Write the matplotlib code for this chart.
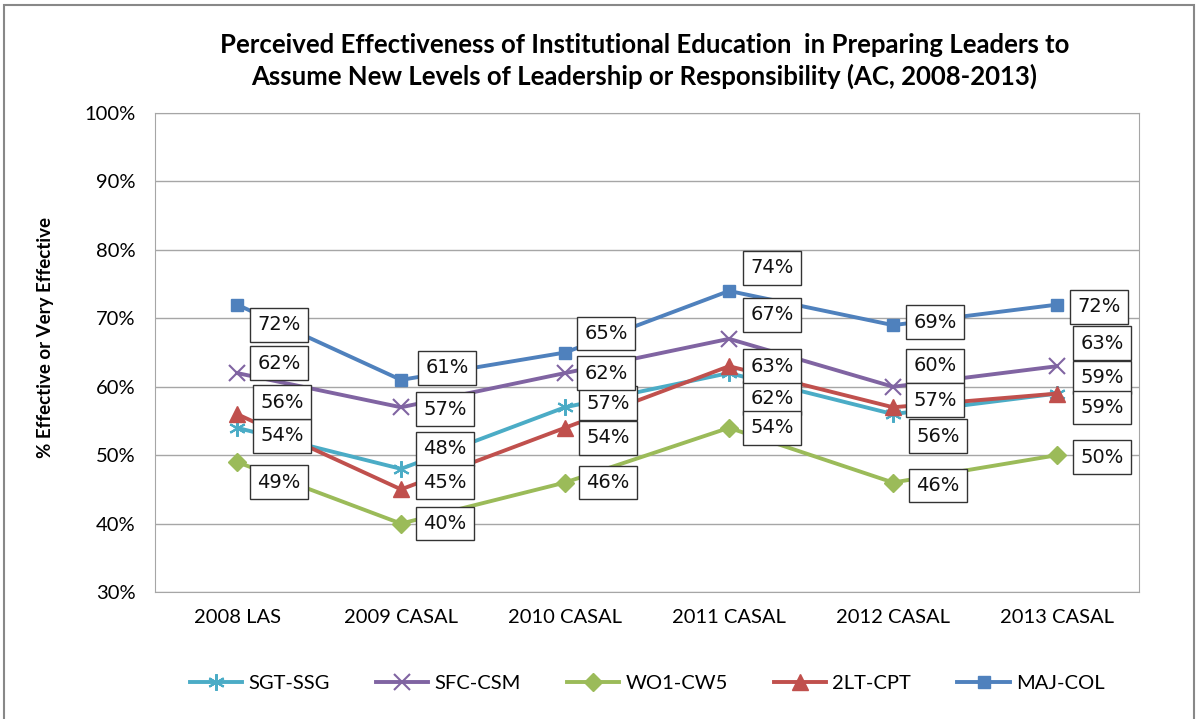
import numpy as np
import matplotlib.pyplot as plt
from matplotlib.patches import Rectangle
from matplotlib.ticker import PercentFormatter

# данные
categories = ['2008 LAS', '2009 CASAL', '2010 CASAL', '2011 CASAL', '2012 CASAL', '2013 CASAL']
series_names = ['SGT-SSG', 'SFC-CSM', 'WO1-CW5', '2LT-CPT', 'MAJ-COL']
sgt_ssg = [54, 48, 57, 62, 56, 59]
sfc_csm = [62, 57, 62, 67, 60, 63]
wo1_cw5 = [49, 40, 46, 54, 46, 50]
lt_cpt = [56, 45, 54, 63, 57, 59]
maj_col = [72, 61, 65, 74, 69, 72]

colors = ['#4BACC6', '#8064A2', '#9BBB59', '#C0504D', '#4F81BD']
markers = [(6, 2, 0), 'x', 'D', '^', 's']
msizes = [12, 12, 9, 12, 9]
mews = [1.5, 1.5, 1, 1, 1]

# смещения подписей (пиксели: вправо, вниз)
offsets = [
    [(45, 8), (44, -20), (43, -4), (43, 25), (45, 22), (45, -16)],
    [(42, -10), (44, 2), (41, 0), (43, -24), (42, -21), (45, -23)],
    [(42, 20), (44, 0), (43, 0), (43, 0), (45, 3), (45, 2)],
    [(45, -12), (44, -7), (43, 10), (43, 0), (42, -7), (45, 14)],
    [(42, 20), (46, -12), (41, -19), (43, -23), (42, -3), (42, 2)],
]

plt.rcParams['font.family'] = ['Lato', 'DejaVu Sans']

fig = plt.figure(figsize=(11.98, 7.19), dpi=100)
ax = fig.add_axes([0.1294, 0.1766, 0.8214, 0.6662])

x = np.arange(len(categories))
data = [sgt_ssg, sfc_csm, wo1_cw5, lt_cpt, maj_col]

for i in range(len(data)):
    ax.plot(x, data[i], color=colors[i], lw=2.8, marker=markers[i], ms=msizes[i],
            mew=mews[i], mec=colors[i], mfc=colors[i], label=series_names[i], zorder=3 + i)

for i in range(len(data)):
    for j, v in enumerate(data[i]):
        dx, dy = offsets[i][j]
        ax.annotate(f'{v}%', (x[j], v), xytext=(dx * 0.72, -dy * 0.72),
                    textcoords='offset points', ha='center', va='center',
                    fontsize=14, color='#111111', zorder=20, family='DejaVu Sans',
                    bbox=dict(boxstyle='square,pad=0.38', fc='white', ec='#333333', lw=1))

ax.set_xlim(-0.5, 5.5)
ax.set_ylim(30, 100)
ax.set_yticks(range(30, 101, 10))
ax.yaxis.set_major_formatter(PercentFormatter(decimals=0))
ax.set_xticks(x)
ax.set_xticklabels(categories)
ax.tick_params(axis='both', labelsize=14.5, length=0)
ax.tick_params(axis='y', pad=14)
ax.tick_params(axis='x', pad=12)
ax.grid(axis='y', color='#a6a6a6', lw=1)
ax.set_axisbelow(True)
for s in ax.spines.values():
    s.set_color('#a6a6a6')

fig.text(0.038, 0.53, '% Effective or Very Effective', rotation=90, ha='center',
         va='center', fontsize=13.5, fontweight='bold')
fig.text(0.538, 0.915, 'Perceived Effectiveness of Institutional Education  in Preparing Leaders to\n'
         'Assume New Levels of Leadership or Responsibility (AC, 2008-2013)',
         ha='center', va='center', fontsize=18.5, fontweight='bold', linespacing=1.3)

ax.legend(loc='center', bbox_to_anchor=(0.5, -0.19), ncol=5, frameon=False,
          fontsize=14.5, handlelength=2.6, handletextpad=0.3, columnspacing=2.3)

fig.patches.append(Rectangle((0.003, -0.02), 0.994, 1.013, transform=fig.transFigure,
                             fill=False, ec='#888888', lw=1.5))

fig.savefig('out.png', dpi=100)
